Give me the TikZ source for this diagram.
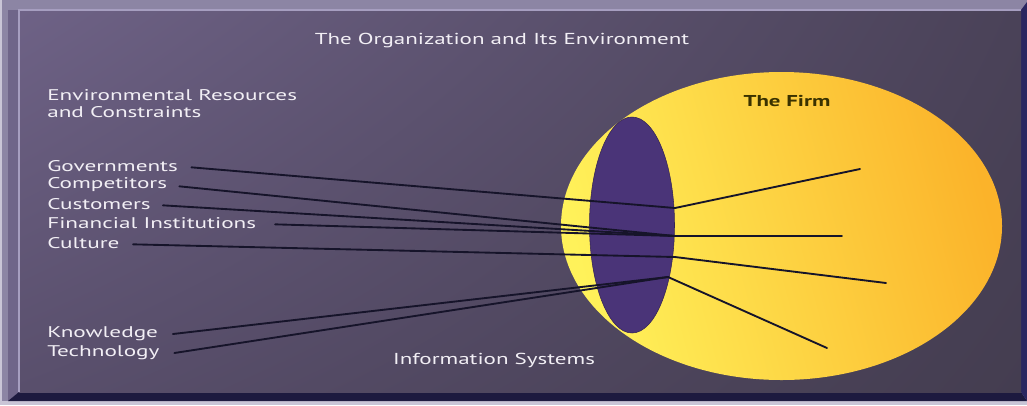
\documentclass[tikz,border=0pt]{standalone}
\usepackage{fontspec}
\usetikzlibrary{shadings}
\setmainfont{PT Sans}
\newfontfamily\labfont[FakeStretch=1.5]{PT Sans}
\newfontfamily\titfont[FakeStretch=1.45]{PT Sans}
\definecolor{outerbg}{HTML}{C9C5D6}
\definecolor{bevtop}{HTML}{8C85A4}
\definecolor{bevleft}{HTML}{6F6589}
\definecolor{bevbot}{HTML}{1D1A3F}
\definecolor{bevright}{HTML}{2A2660}
\definecolor{pUL}{HTML}{6E6286}
\definecolor{pUR}{HTML}{4A4258}
\definecolor{pLL}{HTML}{594F6C}
\definecolor{pLR}{HTML}{443D50}
\definecolor{hilite}{HTML}{A69EC0}
\definecolor{labcol}{HTML}{F2EFF5}
\definecolor{firmA}{HTML}{FFF25A}
\definecolor{firmB}{HTML}{FFE448}
\definecolor{firmC}{HTML}{FBB32A}
\definecolor{isfill}{HTML}{4A3478}
\definecolor{wire}{HTML}{16142A}
\definecolor{firmtext}{HTML}{3A3200}
\begin{document}
\begin{tikzpicture}[x=0.75pt,y=-0.75pt,
  lab/.style={text=labcol, font=\labfont\fontsize{11.6}{12.75}\selectfont, inner sep=0pt, anchor=west},
  tit/.style={text=labcol, font=\titfont\fontsize{11.9}{12.75}\selectfont, inner sep=0pt},
  wireline/.style={draw=wire, line width=1.4pt, line cap=round}]
\useasboundingbox (0,0) rectangle (1027,405);
% frame
\fill[outerbg] (0,0) rectangle (1027,405);
\fill[bevtop] (2,0) rectangle (1027,401);
\fill[bevleft] (8,10) -- (19,10) -- (19,392) -- (8,401) -- cycle;
\fill[bevbot] (8,401) -- (19,392) -- (1021,392) -- (1027,401) -- cycle;
\fill[bevright] (1021,10) -- (1027,2) -- (1027,401) -- (1021,392) -- cycle;
\shade[upper left=pUL, upper right=pUR, lower left=pLL, lower right=pLR] (19,10) rectangle (1021,392);
\draw[hilite, line width=0.8pt] (19,392) -- (19,10) -- (1021,10);
% firm ellipse
\shade[left color=firmA, middle color=firmB, right color=firmC, shading angle=105]
  (781.5,226) ellipse [x radius=220.5, y radius=154];
\fill[isfill] (632,225) ellipse [x radius=42.5, y radius=108];
\draw[isfill!70!black, line width=0.4pt] (632,225) ellipse [x radius=42.5, y radius=108];
% texts
\node[tit] (title) at (502,41) {The Organization and Its Environment};
\node[lab, anchor=north west, align=left] (env) at (47,89) {Environmental Resources\\and Constraints};
\node[lab] (gov) at (47,166) {Governments};
\node[lab] (comp) at (47,185) {Competitors};
\node[lab] (cust) at (47,204) {Customers};
\node[lab] (fin) at (47,223) {Financial Institutions};
\node[lab] (cult) at (47,243) {Culture};
\node[lab] (know) at (47,334) {Knowledge};
\node[lab] (tech) at (47,353) {Technology};
\node[tit] (is) at (494,360) {Information Systems};
\node[tit, text=firmtext, font=\titfont\bfseries\fontsize{11.8}{12.75}\selectfont] (firm) at (787,101) {The Firm};
% convergence points and free ends
\coordinate (pG) at (675,208);
\coordinate (pM) at (675,236);
\coordinate (pC) at (675,257);
\coordinate (pK) at (668,277);
\coordinate (eG) at (860,169);
\coordinate (eM) at (842,236);
\coordinate (eC) at (886,283);
\coordinate (eK) at (827,348);
% connectors
\draw[wireline] ([xshift=10pt,yshift=-1pt]gov.east) -- (pG);
\draw[wireline] ([xshift=9pt,yshift=-1pt]comp.east) -- (pM);
\draw[wireline] ([xshift=9pt,yshift=-1pt]cust.east) -- (pM);
\draw[wireline] ([xshift=14pt,yshift=-1pt]fin.east) -- (pM);
\draw[wireline] ([xshift=10pt,yshift=-1pt]cult.east) -- (pC);
\draw[wireline] ([xshift=11pt,yshift=0pt]know.east) -- (pK);
\draw[wireline] ([xshift=11pt,yshift=0pt]tech.east) -- (pK);
\draw[wireline] (pG) -- (eG);
\draw[wireline] (pM) -- (eM);
\draw[wireline] (pC) -- (eC);
\draw[wireline] (pK) -- (eK);
\end{tikzpicture}
\end{document}
